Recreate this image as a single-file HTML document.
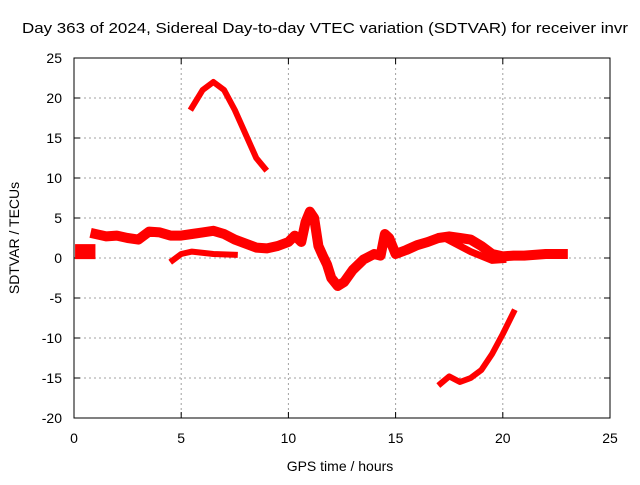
<!DOCTYPE html>
<html><head><meta charset="utf-8"><style>
body{margin:0;background:#fff}
svg text{font-family:"Liberation Sans",sans-serif;fill:#000}
</style></head><body>
<svg id="chart" width="640" height="480" viewBox="0 0 640 480" xmlns="http://www.w3.org/2000/svg">
<text x="22" y="33" font-size="15" textLength="606" lengthAdjust="spacingAndGlyphs">Day 363 of 2024, Sidereal Day-to-day VTEC variation (SDTVAR) for receiver invr</text>
<g id="grid"></g>
<g id="ticks"></g>
<g id="series"></g>
<rect x="74" y="58" width="536" height="360" fill="none" stroke="#000" stroke-width="1"/>
<text x="340" y="471" font-size="14" text-anchor="middle">GPS time / hours</text>
<text transform="translate(19,238) rotate(-90)" font-size="14" text-anchor="middle">SDTVAR / TECUs</text>
</svg>
<script>
const xTicks=[0,5,10,15,20,25];
const yTicks=[25,20,15,10,5,0,-5,-10,-15,-20];
const seriesBlock=[[0.05,0.8],[1.0,0.8]];
const seriesMain=[[1.0,3.0],[1.5,2.7],[2.0,2.8],[2.5,2.5],[3.0,2.3],[3.5,3.3],[4.0,3.2],[4.5,2.8],[5.0,2.8],[5.5,3.0],[6.0,3.2],[6.5,3.4],[7.0,3.0],[7.5,2.3],[8.0,1.8],[8.5,1.3],[9.0,1.2],[9.5,1.5],[10.0,2.0],[10.3,2.8],[10.6,2.0],[10.8,4.5],[11.0,5.8],[11.2,5.0],[11.4,1.5],[11.6,0.3],[11.8,-0.8],[12.0,-2.5],[12.3,-3.5],[12.6,-3.0],[13.0,-1.5],[13.5,-0.2],[14.0,0.5],[14.3,0.3],[14.5,3.0],[14.7,2.5],[15.0,0.5],[15.5,1.0],[16.0,1.6],[16.5,2.0],[17.0,2.5],[17.5,2.7],[18.0,2.5],[18.5,2.3],[19.0,1.5],[19.5,0.5],[20.0,0.2],[20.5,0.3],[21,0.3],[22,0.5],[22.8,0.5]];
const seriesLowerA=[[4.6,-0.3],[5,0.5],[5.5,0.8],[6.5,0.5],[7.5,0.4]];
const seriesLowerB=[[17.5,2.2],[18.5,0.8],[19.5,-0.3],[20,-0.2]];
const seriesUpperArc=[[5.5,18.8],[6.0,21],[6.5,22],[7.0,21],[7.5,18.5],[8.0,15.5],[8.5,12.5],[8.9,11.2]];
const seriesLowerArc=[[17.1,-15.7],[17.5,-14.8],[18,-15.5],[18.5,-15],[19,-14],[19.5,-12],[20,-9.5],[20.5,-6.8]];
const NS='http://www.w3.org/2000/svg';
const X=h=>74+h*536/25, Y=v=>58+(25-v)*360/45;
const grid=document.getElementById('grid'),ticks=document.getElementById('ticks'),ser=document.getElementById('series');
function mk(t,a,p){const e=document.createElementNS(NS,t);for(const k in a)e.setAttribute(k,a[k]);p.appendChild(e);return e;}
xTicks.forEach(t=>{const x=X(t);
 if(t>0&&t<25){const g=mk('line',{x1:x,x2:x,y1:58,y2:418,stroke:'#a0a0a0','stroke-dasharray':'2,3'},grid);}
 const k=mk('path',{d:`M${x},418v-6M${x},58v6`,stroke:'#000'},ticks);
 const l=mk('text',{x:x,y:443,'font-size':14,'text-anchor':'middle'},ticks);l.textContent=t;});
yTicks.forEach(t=>{const y=Y(t);
 if(t<25&&t>-20){const g=mk('line',{x1:74,x2:610,y1:y,y2:y,stroke:'#a0a0a0','stroke-dasharray':'2,3'},grid);}
 const k=mk('path',{d:`M74,${y}h6M610,${y}h-6`,stroke:'#000'},ticks);
 const l=mk('text',{x:62,y:y+5,'font-size':14,'text-anchor':'end'},ticks);l.textContent=t;});
function line(pts,w,name,cap){const p=mk('polyline',{points:pts.map(d=>X(d[0])+','+Y(d[1])).join(' '),fill:'none',stroke:'#ff0000','stroke-width':w,'stroke-linejoin':'round','stroke-linecap':cap||'square'},ser);
 
 }
line(seriesBlock,15,'series-start-block','butt');
line(seriesMain,10,'series-main');
line(seriesLowerA,6,'series-lower-branch-a');
line(seriesLowerB,7,'series-lower-branch-b');
line(seriesUpperArc,6,'series-upper-arc');
line(seriesLowerArc,6,'series-lower-arc');
</script>
</body></html>
